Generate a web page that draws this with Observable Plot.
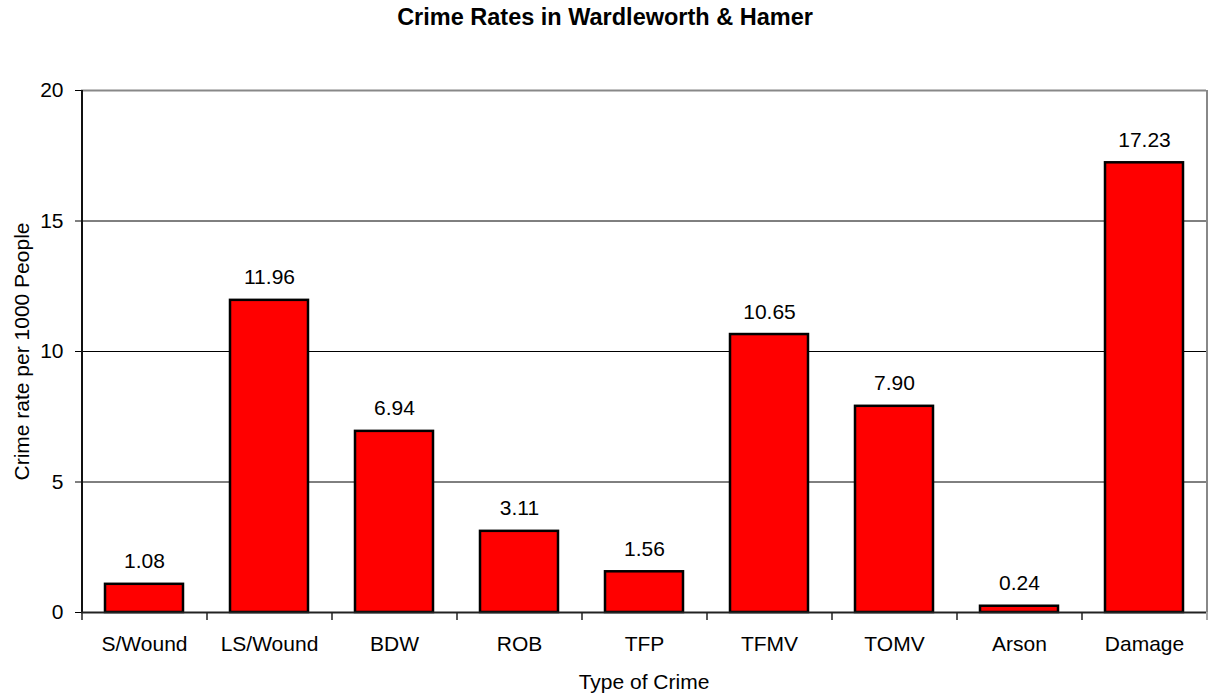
<!DOCTYPE html>
<html><head><meta charset="utf-8">
<script src="https://cdn.jsdelivr.net/npm/d3@7"></script>
<script src="https://cdn.jsdelivr.net/npm/@observablehq/plot@0.6"></script>
<style>
body{margin:0;background:#fff;font-family:"Liberation Sans",Arial,sans-serif;}
#title{width:1210px;height:34px;padding-top:6px;line-height:23px;text-align:center;font-weight:bold;font-size:23.5px;color:#000;}
</style></head><body>
<div id="title">Crime Rates in Wardleworth &amp; Hamer</div>
<div id="chart"></div>
<script>
const categories = ["S/Wound","LS/Wound","BDW","ROB","TFP","TFMV","TOMV","Arson","Damage"];
const rates = [1.08, 11.96, 6.94, 3.11, 1.56, 10.65, 7.90, 0.24, 17.23];
const yTicks = [0, 5, 10, 15, 20];
const gridValues = [5, 10, 15];
const xLabel = "Type of Crime";
const yLabel = "Crime rate per 1000 People";

const data = categories.map((c, i) => ({crime: c, rate: rates[i]}));
const W = 1210, H = 655, mL = 81, mR = 4, mT = 50, mB = 83;
const step = (W - mL - mR) / categories.length;
const font = "'Liberation Sans', Arial, sans-serif";
const fs = 21;

const chart = Plot.plot({
  width: W, height: H,
  marginLeft: mL, marginRight: mR, marginTop: mT, marginBottom: mB,
  style: {fontFamily: font, fontSize: fs + "px", color: "#000", background: "#fff"},
  x: {domain: categories, paddingInner: 0.376, paddingOuter: 0.188, label: null},
  y: {domain: [0, 20], label: null},
  marks: [
    Plot.ruleY(gridValues, {stroke: "#000", strokeWidth: 1}),
    Plot.barY(data, {x: "crime", y: "rate", fill: "#ff0000", stroke: "#000", strokeWidth: 2.5}),
    Plot.text(data, {x: "crime", y: "rate", text: d => d.rate.toFixed(2), lineAnchor: "bottom", dy: -16, fill: "#000", fontSize: fs}),
    Plot.ruleY([20], {stroke: "#888", strokeWidth: 2}),
    Plot.ruleX([categories[categories.length - 1]], {dx: step / 2, stroke: "#888", strokeWidth: 2}),
    Plot.ruleX([categories[0]], {dx: -step / 2, stroke: "#111", strokeWidth: 2}),
    Plot.ruleY([0], {stroke: "#222", strokeWidth: 2}),
    Plot.ruleX(categories, {dx: -step / 2, y1: 0, y2: 0, insetBottom: -8, stroke: "#222", strokeWidth: 1.5}),
    Plot.ruleX([categories[categories.length - 1]], {dx: step / 2, y1: 0, y2: 0, insetBottom: -8, stroke: "#888", strokeWidth: 1.5}),
    Plot.axisY({ticks: yTicks, tickSize: 6, tickPadding: 12, tickFormat: d => String(d), fontSize: fs, label: null}),
    Plot.axisX({tickSize: 0, tickPadding: 24, fontSize: fs, label: null}),
    Plot.text([xLabel], {frameAnchor: "bottom", dy: 76, lineAnchor: "bottom", textAnchor: "middle", fontSize: fs, fill: "#000"}),
    Plot.text([yLabel], {frameAnchor: "left", dx: -53, rotate: -90, lineAnchor: "bottom", textAnchor: "middle", fontSize: fs, fill: "#000"})
  ]
});
document.getElementById("chart").appendChild(chart);
</script>
</body></html>
